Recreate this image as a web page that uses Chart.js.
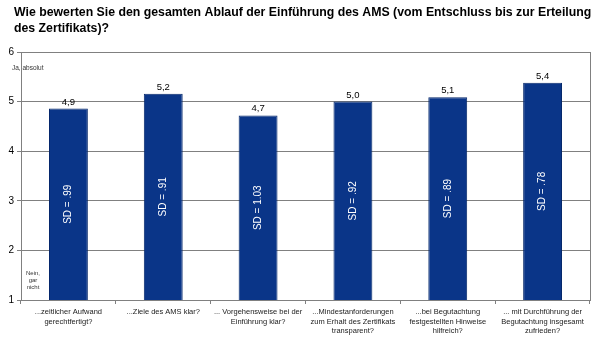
<!DOCTYPE html>
<html>
<head>
<meta charset="utf-8">
<script src="https://cdn.jsdelivr.net/npm/chart.js@4/dist/chart.umd.min.js"></script>
<style>
  html, body { margin: 0; padding: 0; background: #fff; }
  #wrap { width: 600px; height: 342px; position: relative; }
</style>
</head>
<body>
<div id="wrap"><canvas id="c" width="600" height="342"></canvas></div>
<script>
const titleLines = ["Wie bewerten Sie den gesamten Ablauf der Einführung des AMS (vom Entschluss bis zur Erteilung", "des Zertifikats)?"];
const categories = [
  ["...zeitlicher Aufwand", "gerechtfertigt?"],
  ["...Ziele des AMS klar?"],
  ["... Vorgehensweise bei der", "Einführung klar?"],
  ["...Mindestanforderungen", "zum Erhalt des Zertifikats", "transparent?"],
  ["...bei Begutachtung", "festgestellten Hinweise", "hilfreich?"],
  ["... mit Durchführung der", "Begutachtung insgesamt", "zufrieden?"]
];
const means = [4.86, 5.16, 4.72, 5.0, 5.09, 5.38];
const meanLabels = ["4,9", "5,2", "4,7", "5,0", "5,1", "5,4"];
const sdLabels = ["SD = .99", "SD = .91", "SD = 1.03", "SD = .92", "SD = .89", "SD = .78"];
const yTicks = [1, 2, 3, 4, 5, 6];
const topNote = ["Ja, absolut"];
const bottomNote = ["Nein,", "gar", "nicht"];

const FONT = "'Liberation Sans', Arial, sans-serif";

const decor = {
  id: 'decor',
  afterDraw(chart) {
    const ctx = chart.ctx;
    const ca = chart.chartArea;
    const meta = chart.getDatasetMeta(0);
    ctx.save();
    // title
    ctx.fillStyle = '#000';
    ctx.font = 'bold 12.3px ' + FONT;
    ctx.textAlign = 'left';
    ctx.textBaseline = 'alphabetic';
    titleLines.forEach((t, i) => ctx.fillText(t, 14, 16 + i * 16));
    // right border
    ctx.strokeStyle = '#808080';
    ctx.lineWidth = 1;
    ctx.beginPath();
    ctx.moveTo(Math.round(ca.right) + 0.5, ca.top);
    ctx.lineTo(Math.round(ca.right) + 0.5, ca.bottom);
    ctx.stroke();
    // notes
    ctx.fillStyle = '#333';
    ctx.font = '6.5px ' + FONT;
    ctx.textAlign = 'left';
    ctx.textBaseline = 'middle';
    topNote.forEach((t, i) => ctx.fillText(t, 12, 68 + i * 7));
    ctx.textAlign = 'center';
    ctx.font = '6px ' + FONT;
    bottomNote.forEach((t, i) => ctx.fillText(t, 33, 273 + i * 7));
    // value labels + SD labels
    meta.data.forEach((bar, i) => {
      ctx.fillStyle = '#000';
      ctx.font = '9.5px ' + FONT;
      ctx.textAlign = 'center';
      ctx.textBaseline = 'alphabetic';
      ctx.fillText(meanLabels[i], bar.x, bar.y - 4);
      ctx.save();
      ctx.translate(bar.x, (bar.y + ca.bottom) / 2);
      ctx.rotate(-Math.PI / 2);
      ctx.fillStyle = '#fff';
      ctx.font = '10px ' + FONT;
      ctx.textAlign = 'center';
      ctx.textBaseline = 'middle';
      ctx.fillText(sdLabels[i], 0, 0);
      ctx.restore();
    });
    ctx.restore();
  }
};

new Chart(document.getElementById('c'), {
  type: 'bar',
  data: {
    labels: categories,
    datasets: [{
      data: means,
      backgroundColor: '#0a3588',
      borderColor: '#06286b',
      borderWidth: 1,
      categoryPercentage: 1,
      barPercentage: 0.41
    }]
  },
  options: {
    responsive: false,
    animation: false,
    devicePixelRatio: 1,
    layout: { padding: { top: 52, right: 10, left: 0, bottom: 0 } },
    plugins: { legend: { display: false }, tooltip: { enabled: false }, title: { display: false } },
    scales: {
      y: {
        min: 1, max: 6,
        afterFit(s) { s.width = 21; },
        afterBuildTicks(s) { s.ticks = yTicks.map(v => ({ value: v })); },
        ticks: { stepSize: 1, color: '#000', font: { family: FONT, size: 10 }, padding: 3 },
        grid: { color: '#808080', tickLength: 4, lineWidth: 1 },
        border: { color: '#808080' }
      },
      x: {
        afterFit(s) { s.height = 42; },
        ticks: { color: '#222', font: { family: FONT, size: 7.5, lineHeight: 1.3 }, padding: 3, maxRotation: 0, autoSkip: false },
        grid: { offset: true, drawOnChartArea: false, drawTicks: true, tickLength: 4, color: '#808080' },
        border: { color: '#808080' }
      }
    }
  },
  plugins: [decor]
});
</script>
</body>
</html>
